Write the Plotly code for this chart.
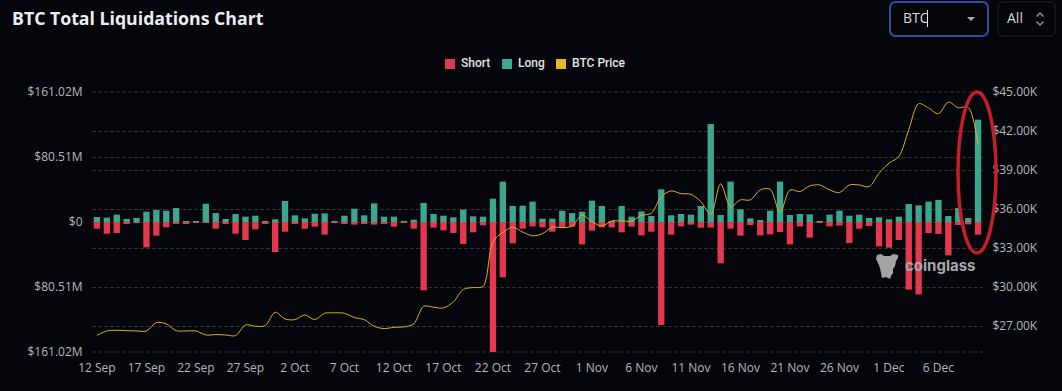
import pandas as pd
import plotly.graph_objects as go

START_DATE = "2023-09-12"
SHORT_M = [8.3,14.5,13.6,2.1,0.4,31.4,16.9,6.6,1.7,2.1,0.2,0.8,8.3,1.7,14.5,22.3,9.1,1.7,37.2,12.0,2.5,8.3,5.8,15.7,0.8,1.7,3.3,2.5,3.3,1.7,5.8,1.2,
           8.3,84.6,7.0,10.3,13.6,27.3,12.8,4.1,161.02,68.5,26.4,8.3,5.4,6.6,12.0,7.4,5.8,27.7,10.7,6.6,6.6,12.8,5.8,16.5,12.0,127.6,15.7,5.4,3.3,7.0,7.0,51.2,
           8.3,16.9,3.7,16.5,15.3,12.4,27.7,5.4,19.4,0.8,5.4,4.5,26.0,8.3,5.0,30.1,31.8,22.3,83.8,89.6,13.6,14.9,41.3,3.7,2.9,15.7]
LONG_M = [6.2,5.4,9.1,3.7,5.0,12.8,14.9,14.0,17.3,0.4,0.2,22.7,11.1,3.7,9.9,6.6,7.8,0.8,3.3,26.0,8.3,4.5,10.3,10.7,0.8,7.8,16.5,8.3,23.1,6.6,6.6,0.4,
          2.9,23.5,9.9,7.8,5.8,15.3,7.0,6.6,28.9,50.0,19.8,20.2,25.2,4.1,4.1,14.0,11.1,12.8,26.4,19.8,0.2,19.8,6.6,13.2,7.4,40.5,8.3,9.9,9.1,19.8,121.4,8.7,
          50.0,15.7,4.5,2.1,14.0,50.0,8.7,9.9,9.5,0.4,9.1,14.0,7.8,9.1,5.0,5.8,3.3,6.6,22.3,20.6,25.2,27.3,7.4,17.3,5.0,126.8]
BTC_PRICE = [26280,26620,26670,26640,26620,26620,27260,27160,26640,26620,26620,26310,26340,26310,26260,27080,26980,27030,28060,27540,27490,27850,27490,27980,28010,27980,27650,27490,26980,26800,26900,26930,
             27160,28520,28440,28390,28850,29810,29960,30040,33480,34200,34590,34230,33940,34100,34610,34560,34690,35540,35020,34690,35080,35080,35080,35510,35670,36950,37390,37180,37130,36570,35590,37930,
             36180,36700,36700,37470,37520,35740,37470,37340,37780,37850,37470,37260,37850,37850,37720,38750,39520,40040,42100,44100,43770,43330,44230,43790,43820,40940]

LEFT_TICKS = [-161.02,-80.51,0,80.51,161.02]
LEFT_LABELS = ["$161.02M","$80.51M","$0","$80.51M","$161.02M"]
RIGHT_TICKS = [27000,30000,33000,36000,39000,42000,45000]
RIGHT_LABELS = ["$27.00K","$30.00K","$33.00K","$36.00K","$39.00K","$42.00K","$45.00K"]

days = pd.date_range(START_DATE, periods=len(BTC_PRICE), freq="D")
categories = [f"{d.day} {d.strftime('%b')}" for d in days]
x_ticks = categories[::5]

W, H = 1062, 391
L, R, T, B = 92, 983, 92, 352
px = lambda x: (x - L) / (R - L)
py = lambda y: (B - y) / (B - T)

BG = "#05060b"
GRID = "#2f3136"
TXT = "#b4b6bb"
RED = "#e5384f"
TEAL = "#3ba78f"
GOLD = "#dfae1e"
DASH = "4px,2px"
FONT = "Open Sans, Noto Sans, sans-serif"

fig = go.Figure()
fig.add_bar(x=categories, y=[-v for v in SHORT_M], name="Short", marker=dict(color=RED, line_width=0), yaxis="y", showlegend=False)
fig.add_bar(x=categories, y=LONG_M, name="Long", marker=dict(color=TEAL, line_width=0), yaxis="y", showlegend=False)
fig.add_scatter(x=categories, y=BTC_PRICE, name="BTC Price", mode="lines", showlegend=False,
                line=dict(color=GOLD, width=1, shape="spline", smoothing=0.9), yaxis="y2")


def rrect(x0, y0, x1, y1, r):
    a, b, c, d = px(x0), py(y0), px(x1), py(y1)
    rx, ry = r / (R - L), r / (B - T)
    return (f"M{a+rx},{b} L{c-rx},{b} Q{c},{b} {c},{b-ry} L{c},{d+ry} Q{c},{d} {c-rx},{d} "
            f"L{a+rx},{d} Q{a},{d} {a},{d+ry} L{a},{b-ry} Q{a},{b} {a+rx},{b} Z")


def poly(pts):
    return "M" + " L".join(f"{px(x)},{py(y)}" for x, y in pts) + " Z"


LOGO = [(877,255),(881,254),(884,256),(890,256),(893,254),(898,255),(898,258),(896,261),(895,266),(893,269),(893,273),(891,276),(890,279),(886,277),(882,278),(881,273),(880,268),(878,263),(876,259)]

LEGEND = [("Short", RED, 445, 460), ("Long", TEAL, 502, 517), ("BTC Price", "#e6b71e", 556, 571)]

shapes = [
    dict(type="line", xref="paper", yref="paper", x0=0, x1=1, y0=1, y1=1, line=dict(color=GRID, width=1, dash=DASH), layer="below"),
    dict(type="line", xref="paper", yref="paper", x0=0, x1=1, y0=0, y1=0, line=dict(color=GRID, width=1, dash=DASH), layer="below"),
    dict(type="circle", xref="paper", yref="paper", x0=px(958), x1=px(996), y0=py(253), y1=py(92),
         line=dict(color="#c41e29", width=3.5), layer="above"),
    dict(type="path", xref="paper", yref="paper", path=rrect(890, 2, 988, 36, 6),
         line=dict(color="#2e4f9e", width=2), fillcolor=BG, layer="above"),
    dict(type="path", xref="paper", yref="paper", path=rrect(998, 2, 1055, 36, 5),
         line=dict(color="#24262c", width=1), fillcolor=BG, layer="above"),
    dict(type="path", xref="paper", yref="paper", path=poly([(967,17),(975,17),(971,21)]),
         line_width=0, fillcolor="#a9abb0", layer="above"),
    dict(type="path", xref="paper", yref="paper", path=poly([(1036,16),(1040,12),(1044,16),(1043,17),(1040,14),(1037,17)]),
         line_width=0, fillcolor="#8f9196", layer="above"),
    dict(type="path", xref="paper", yref="paper", path=poly([(1036,22),(1040,26),(1044,22),(1043,21),(1040,24),(1037,21)]),
         line_width=0, fillcolor="#8f9196", layer="above"),
    dict(type="path", xref="paper", yref="paper", path=poly(LOGO),
         line_width=0, fillcolor="#a3a4a6", layer="above"),
    dict(type="line", xref="paper", yref="paper", x0=px(927.5), x1=px(927.5), y0=py(10), y1=py(27),
         line=dict(color="#e8e8ee", width=1), layer="above"),
]

annotations = [
    dict(text="BTC", x=px(902), y=py(18), xref="paper", yref="paper", xanchor="left", yanchor="middle", showarrow=False,
         xshift=-1, font=dict(family=FONT, size=14, color="#d6d8dd")),
    dict(text="All", x=px(1006), y=py(18), xref="paper", yref="paper", xanchor="left", yanchor="middle", showarrow=False,
         xshift=-1, font=dict(family=FONT, size=14, color="#d6d8dd")),
    dict(text="<b>coinglass</b>", x=px(904), y=py(265.5), xref="paper", yref="paper", xanchor="left", yanchor="middle", showarrow=False,
         xshift=-1, font=dict(family="Inter, sans-serif", size=15, color="#a8a9ab")),
]
for name, color, sx, tx in LEGEND:
    shapes.append(dict(type="rect", xref="paper", yref="paper", x0=px(sx), x1=px(sx + 10), y0=py(69), y1=py(59),
                       line_width=0, fillcolor=color, layer="above"))
    annotations.append(dict(text=name, x=px(tx), y=py(63.5), xref="paper", yref="paper", xanchor="left", yanchor="middle",
                            showarrow=False, xshift=-1, font=dict(family="Roboto, sans-serif", size=12, color="#e4e5e8", weight=500)))

fig.update_layout(
    width=W, height=H, autosize=False,
    margin=dict(l=L, r=W - R, t=T, b=H - B, pad=0),
    paper_bgcolor=BG, plot_bgcolor=BG,
    barmode="relative", bargap=0.36,
    hovermode="x unified", showlegend=False,
    font=dict(family=FONT, size=12, color=TXT),
    title=dict(text="<b>BTC Total Liquidations Chart</b>", x=12 / W, xanchor="left", xref="container",
               y=1 - 18.5 / H, yanchor="middle", yref="container", font=dict(family=FONT, size=17.7, color="#eceef2")),
    xaxis=dict(type="category", categoryorder="array", categoryarray=categories, range=[-0.5, len(categories) - 0.5],
               tickmode="array", tickvals=x_ticks, ticktext=x_ticks, showgrid=False, zeroline=False, showline=False,
               ticks="outside", ticklen=5, tickcolor="rgba(0,0,0,0)", tickfont=dict(size=12, color=TXT, family=FONT), tickangle=0),
    yaxis=dict(range=[-161.02, 161.02], tickmode="array", tickvals=LEFT_TICKS, ticktext=LEFT_LABELS,
               showgrid=True, gridcolor=GRID, griddash=DASH, gridwidth=1, zeroline=False, showline=False,
               ticks="outside", ticklen=6, tickcolor="rgba(0,0,0,0)", tickfont=dict(size=12, color=TXT, family=FONT)),
    yaxis2=dict(range=[25000, 45000], overlaying="y", side="right", tickmode="array", tickvals=RIGHT_TICKS, ticktext=RIGHT_LABELS,
                showgrid=True, gridcolor=GRID, griddash=DASH, gridwidth=1, zeroline=False, showline=False,
                ticks="outside", ticklen=6, tickcolor="rgba(0,0,0,0)", tickfont=dict(size=12, color=TXT, family=FONT)),
    shapes=shapes,
    annotations=annotations,
)

fig.write_html("out.html", config=dict(displayModeBar=False), post_script="document.body.style.margin='0';document.body.style.background='#05060b';")
